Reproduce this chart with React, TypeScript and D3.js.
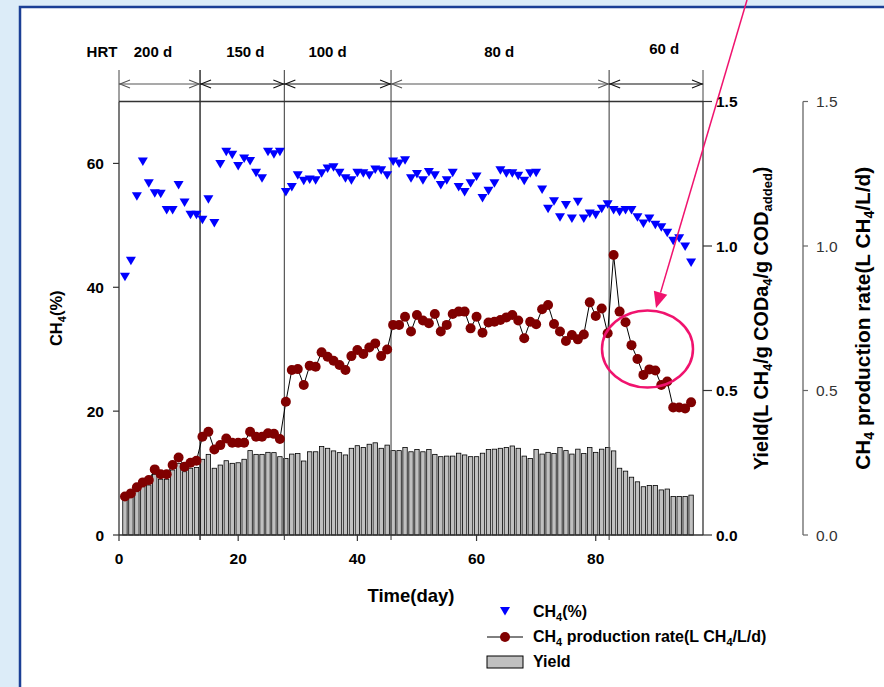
import React from "react";
import * as d3 from "d3";

const days = [
  1, 2, 3, 4, 5, 6, 7, 8, 9, 10, 11, 12, 13, 14, 15, 16, 17, 18, 19, 20,
  21, 22, 23, 24, 25, 26, 27, 28, 29, 30, 31, 32, 33, 34, 35, 36, 37, 38, 39, 40,
  41, 42, 43, 44, 45, 46, 47, 48, 49, 50, 51, 52, 53, 54, 55, 56, 57, 58, 59, 60,
  61, 62, 63, 64, 65, 66, 67, 68, 69, 70, 71, 72, 73, 74, 75, 76, 77, 78, 79, 80,
  81, 82, 83, 84, 85, 86, 87, 88, 89, 90, 91, 92, 93, 94, 95, 96,
];

const ch4Percent = [
  41.7, 44.3, 54.7, 60.3, 56.8, 55.2, 55.1, 52.5, 52.5, 56.5, 53.7, 51.7, 51.7, 50.9, 54.2, 50.4,
  59.9, 61.9, 61.4, 59.6, 60.8, 60.4, 58.5, 57.6, 61.9, 61.5, 61.9, 55.4, 56.2, 58.1, 57.2, 57.4,
  57.3, 58.4, 59.2, 59.4, 58.5, 57.6, 57.3, 58.5, 58.4, 58.1, 59.0, 58.9, 58.1, 60.3, 60.0, 60.5,
  57.6, 58.3, 57.3, 58.6, 58.1, 56.5, 57.3, 58.5, 56.2, 55.4, 56.8, 57.9, 54.4, 55.6, 56.8, 58.9,
  58.4, 58.4, 58.0, 57.2, 58.4, 58.5, 55.8, 52.7, 53.9, 51.3, 53.3, 51.1, 53.8, 51.1, 51.9, 51.7,
  52.7, 53.4, 52.5, 52.2, 52.5, 52.5, 51.3, 50.3, 51.1, 50.1, 49.7, 48.8, 47.5, 47.9, 46.6, 44.0,
];

const ch4Rate = [
  0.133, 0.144, 0.165, 0.182, 0.19, 0.227, 0.21, 0.21, 0.242, 0.268, 0.236, 0.25, 0.257, 0.34, 0.357, 0.296,
  0.311, 0.334, 0.319, 0.319, 0.319, 0.357, 0.34, 0.34, 0.352, 0.35, 0.332, 0.461, 0.571, 0.574, 0.519, 0.586,
  0.582, 0.632, 0.617, 0.603, 0.588, 0.571, 0.619, 0.64, 0.626, 0.649, 0.663, 0.619, 0.642, 0.727, 0.727, 0.755,
  0.704, 0.761, 0.742, 0.733, 0.765, 0.704, 0.727, 0.765, 0.773, 0.773, 0.715, 0.755, 0.7, 0.735, 0.738, 0.744,
  0.753, 0.761, 0.742, 0.681, 0.738, 0.729, 0.781, 0.796, 0.73, 0.704, 0.671, 0.692, 0.677, 0.694, 0.805, 0.758,
  0.784, 0.698, 0.969, 0.773, 0.736, 0.657, 0.609, 0.554, 0.573, 0.569, 0.519, 0.531, 0.441, 0.441, 0.438, 0.459,
];

const yieldValues = [
  0.121, 0.13, 0.15, 0.167, 0.173, 0.21, 0.193, 0.193, 0.225, 0.248, 0.219, 0.231, 0.234, 0.262, 0.279, 0.231,
  0.242, 0.257, 0.248, 0.25, 0.262, 0.292, 0.279, 0.279, 0.286, 0.285, 0.271, 0.265, 0.28, 0.282, 0.256, 0.288,
  0.288, 0.306, 0.3, 0.291, 0.285, 0.277, 0.3, 0.309, 0.303, 0.314, 0.319, 0.3, 0.311, 0.292, 0.292, 0.303,
  0.288, 0.296, 0.288, 0.296, 0.279, 0.271, 0.273, 0.273, 0.283, 0.277, 0.271, 0.271, 0.283, 0.296, 0.297, 0.3,
  0.303, 0.308, 0.3, 0.273, 0.265, 0.296, 0.28, 0.286, 0.282, 0.303, 0.292, 0.28, 0.297, 0.282, 0.303, 0.286,
  0.297, 0.303, 0.291, 0.231, 0.221, 0.2, 0.184, 0.167, 0.171, 0.171, 0.156, 0.159, 0.133, 0.133, 0.133, 0.138,
];

const hrtBounds = [0, 13.6, 27.75, 45.65, 82.25, 98];
const hrtLabels = ["200 d", "150 d", "100 d", "80 d", "60 d"];
const hrtLabelDays = [5.7, 21.2, 35.0, 63.8, 91.5];

const xTicks = [0, 20, 40, 60, 80];
const leftTicks = [0, 20, 40, 60];
const rightTicks = [0, 0.5, 1.0, 1.5];

const FONT = "'Liberation Sans', Arial, Helvetica, sans-serif";

export default function App() {
  const W = 884;
  const H = 687;
  const x = d3.scaleLinear().domain([0, 98]).range([119, 703]);
  const yL = d3.scaleLinear().domain([0, 70]).range([535, 101.5]);
  const yR = d3.scaleLinear().domain([0, 1.5]).range([535, 101.5]);
  const top = 101.5;
  const bottom = 535;
  const left = x(0);
  const right = x(98);
  const axis2 = 803;

  const rateLine = d3
    .line<number>()
    .x((_, i) => x(days[i]))
    .y((v) => yR(v))(ch4Rate);

  const tri = (cx: number, cy: number, s = 1) =>
    `M${cx - 5 * s},${cy - 4 * s}L${cx + 5 * s},${cy - 4 * s}L${cx},${cy + 4.5 * s}Z`;

  // pink annotation arrow
  const aStart = [747, 0];
  const aTip = [656, 308];
  const dx = aTip[0] - aStart[0];
  const dy = aTip[1] - aStart[1];
  const len = Math.hypot(dx, dy);
  const ux = dx / len;
  const uy = dy / len;
  const bcx = aTip[0] - 16 * ux;
  const bcy = aTip[1] - 16 * uy;
  const px = -uy;
  const py = ux;
  const head = `M${aTip[0]},${aTip[1]}L${bcx + 7 * px},${bcy + 7 * py}L${bcx - 7 * px},${bcy - 7 * py}Z`;

  return (
    <svg
      width={W}
      height={H}
      viewBox={`0 0 ${W} ${H}`}
      style={{ position: "absolute", left: 0, top: 0, fontFamily: FONT }}
    >
      <rect x={0} y={0} width={W} height={H} fill="#dcecf8" />
      <rect x={20} y={7} width={W + 20} height={H + 20} fill="#ffffff" stroke="#1b3f95" strokeWidth={2.5} />

      {/* bars */}
      {yieldValues.map((v, i) => (
        <rect
          key={"b" + i}
          x={x(days[i]) - 2.2}
          y={yR(v)}
          width={4.4}
          height={bottom - yR(v)}
          fill="#c0c0c0"
          stroke="#000"
          strokeWidth={0.8}
        />
      ))}

      {/* HRT boundary lines */}
      {hrtBounds.slice(1, -1).map((b, i) => (
        <line
          key={"v" + i}
          x1={x(b)}
          x2={x(b)}
          y1={70}
          y2={bottom + 5}
          stroke={i === 0 ? "#000" : "#555"}
          strokeWidth={1.2}
        />
      ))}
      {[hrtBounds[0], hrtBounds[hrtBounds.length - 1]].map((b, i) => (
        <line key={"ve" + i} x1={x(b)} x2={x(b)} y1={70} y2={top} stroke="#444" strokeWidth={1} />
      ))}

      {/* HRT arrows */}
      {hrtLabels.map((_, i) => {
        const a = x(hrtBounds[i]);
        const b = x(hrtBounds[i + 1]);
        const yA = 84;
        return (
          <g key={"a" + i} stroke={i === 0 || i === 3 ? "#555" : "#111"} strokeWidth={1.1} fill="none">
            <line x1={a} x2={b} y1={yA} y2={yA} />
            <path d={`M${a + 11},${yA - 4}L${a + 1},${yA}L${a + 11},${yA + 4}`} />
            <path d={`M${b - 11},${yA - 4}L${b - 1},${yA}L${b - 11},${yA + 4}`} />
          </g>
        );
      })}
      <text x={102} y={57} fontSize={15} fontWeight="bold" textAnchor="middle">
        HRT
      </text>
      {hrtLabels.map((t, i) => (
        <text
          key={"h" + i}
          x={x(hrtLabelDays[i])}
          y={i === 4 ? 54 : 57}
          fontSize={15}
          fontWeight="bold"
          textAnchor="middle"
        >
          {t}
        </text>
      ))}

      {/* rate line and points */}
      <path d={rateLine || ""} fill="none" stroke="#000" strokeWidth={1} />
      {ch4Rate.map((v, i) => (
        <circle key={"c" + i} cx={x(days[i])} cy={yR(v)} r={5} fill="#800000" />
      ))}

      {/* CH4 % triangles */}
      {ch4Percent.map((v, i) => (
        <path key={"t" + i} d={tri(x(days[i]), yL(v))} fill="#0000ff" />
      ))}

      {/* frame: top line */}
      <line x1={left} x2={right} y1={top} y2={top} stroke="#333" strokeWidth={1.3} />

      {/* left axis */}
      <line x1={left} x2={left} y1={top} y2={bottom} stroke="#333" strokeWidth={1.3} />
      {leftTicks.map((t) => (
        <g key={"lt" + t}>
          <line x1={left - 6} x2={left} y1={yL(t)} y2={yL(t)} stroke="#333" strokeWidth={1.2} />
          <text x={104} y={yL(t) + 5.5} fontSize={15.5} fontWeight="bold" textAnchor="end">
            {t}
          </text>
        </g>
      ))}
      <text
        transform={`translate(62,${(top + bottom) / 2}) rotate(-90)`}
        fontSize={16.5}
        fontWeight="bold"
        textAnchor="middle"
      >
        CH<tspan dy={4} fontSize={11}>4</tspan>
        <tspan dy={-4}>(%)</tspan>
      </text>

      {/* bottom axis */}
      <line x1={left} x2={right} y1={bottom} y2={bottom} stroke="#333" strokeWidth={1.3} />
      {xTicks.map((t) => (
        <g key={"xt" + t}>
          <line x1={x(t)} x2={x(t)} y1={bottom} y2={bottom + 6} stroke="#333" strokeWidth={1.2} />
          <text x={x(t)} y={564} fontSize={15.5} fontWeight="bold" textAnchor="middle">
            {t}
          </text>
        </g>
      ))}
      <text x={411} y={602} fontSize={18.5} fontWeight="bold" textAnchor="middle">
        Time(day)
      </text>

      {/* right axis 1 (yield) */}
      <line x1={right} x2={right} y1={top} y2={bottom} stroke="#333" strokeWidth={1.3} />
      {rightTicks.map((t) => (
        <g key={"rt" + t}>
          <line x1={right} x2={right + 9} y1={yR(t)} y2={yR(t)} stroke="#333" strokeWidth={1.2} />
          <text x={716} y={yR(t) + 5.5} fontSize={15.5} fontWeight="bold">
            {t.toFixed(1)}
          </text>
        </g>
      ))}
      <text
        transform={`translate(768,${(top + bottom) / 2}) rotate(-90)`}
        fontSize={19.8}
        fontWeight="bold"
        textAnchor="middle"
      >
        Yield(L CH<tspan dy={4} fontSize={13}>4</tspan>
        <tspan dy={-4}>/g CODa</tspan>
        <tspan dy={4} fontSize={13}>4</tspan>
        <tspan dy={-4}>/g COD</tspan>
        <tspan dy={4} fontSize={13}>added</tspan>
        <tspan dy={-4}>)</tspan>
      </text>

      {/* right axis 2 (rate) */}
      <line x1={axis2} x2={axis2} y1={top} y2={bottom} stroke="#666" strokeWidth={1.3} />
      {rightTicks.map((t) => (
        <g key={"r2" + t}>
          <line x1={axis2} x2={axis2 + 5} y1={yR(t)} y2={yR(t)} stroke="#666" strokeWidth={1.2} />
          <text x={816} y={yR(t) + 5.5} fontSize={15.5} fill="#333">
            {t.toFixed(1)}
          </text>
        </g>
      ))}
      <text
        transform={`translate(870,${(top + bottom) / 2}) rotate(-90)`}
        fontSize={20.8}
        fontWeight="bold"
        textAnchor="middle"
      >
        CH<tspan dy={4} fontSize={14}>4</tspan>
        <tspan dy={-4}> production rate(L CH</tspan>
        <tspan dy={4} fontSize={14}>4</tspan>
        <tspan dy={-4}>/L/d)</tspan>
      </text>

      {/* legend */}
      <path d={tri(505, 611)} fill="#0000ff" />
      <text x={533} y={617} fontSize={16} fontWeight="bold">
        CH<tspan dy={4} fontSize={11}>4</tspan>
        <tspan dy={-4}>(%)</tspan>
      </text>
      <line x1={487} x2={523} y1={637} y2={637} stroke="#000" strokeWidth={1} />
      <circle cx={505} cy={637} r={5} fill="#800000" />
      <text x={533} y={642} fontSize={16} fontWeight="bold">
        CH<tspan dy={4} fontSize={11}>4</tspan>
        <tspan dy={-4}> production rate(L CH</tspan>
        <tspan dy={4} fontSize={11}>4</tspan>
        <tspan dy={-4}>/L/d)</tspan>
      </text>
      <rect x={487} y={656} width={36} height={12} fill="#c0c0c0" stroke="#000" strokeWidth={1} />
      <text x={533} y={667} fontSize={16} fontWeight="bold">
        Yield
      </text>

      {/* pink annotation */}
      <line x1={aStart[0]} y1={aStart[1]} x2={bcx} y2={bcy} stroke="#f0136e" strokeWidth={1.5} />
      <path d={head} fill="#f0136e" />
      <ellipse cx={647.5} cy={349} rx={45.5} ry={38.5} fill="none" stroke="#f0136e" strokeWidth={2.5} />
    </svg>
  );
}
